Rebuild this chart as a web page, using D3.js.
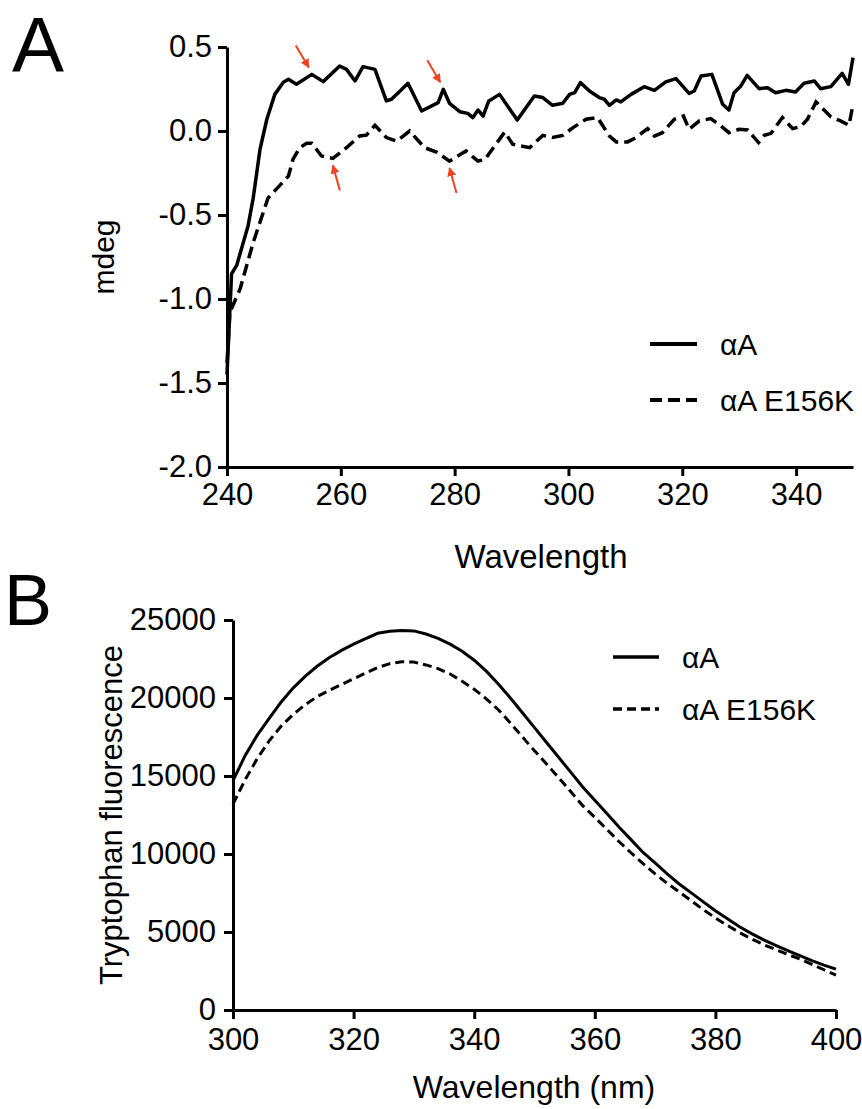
<!DOCTYPE html>
<html>
<head>
<meta charset="utf-8">
<script src="https://cdn.jsdelivr.net/npm/d3@7"></script>
<style>
  body { margin: 0; background: #fff; }
  svg text { font-family: "Liberation Sans", Arial, Helvetica, sans-serif; fill: #000; }
</style>
</head>
<body>
<div id="container"></div>
<script>

// ---- panel A : CD spectra (mdeg vs wavelength) ----
var cdWlWT = [240, 240.8, 241.7, 243.7, 244.6, 245.8, 247, 248.4, 249.9, 250.8, 252.2, 254.9, 256.9, 259.8, 261, 262.5,
  263.9, 266, 268, 268.9, 270.1, 271.8, 274.2, 277.1, 278, 279.1, 280.9, 282.3, 283.2, 284.1, 285, 286, 287.9, 291,
  294, 295.5, 297.2, 299, 300.2, 301.1, 302.1, 303.7, 305.4, 306.3, 307.2, 308.4, 309.2, 311, 313.3, 315.1, 317.1,
  318.9, 321.2, 322.1, 323.3, 325.2, 327.1, 328.2, 329.1, 330.3, 331.4, 333.5, 335, 336.4, 338.2, 339.9, 341.4,
  343.2, 344.3, 346.1, 348.1, 349.2, 350];
var cdWT = [-1.45, -0.85, -0.8, -0.565, -0.4, -0.11, 0.07, 0.218, 0.29, 0.308, 0.278, 0.337, 0.294, 0.387, 0.367, 0.298,
  0.383, 0.367, 0.179, 0.189, 0.228, 0.284, 0.119, 0.169, 0.248, 0.165, 0.115, 0.105, 0.08, 0.125, 0.089, 0.179, 0.218, 0.065,
  0.208, 0.199, 0.153, 0.165, 0.218, 0.228, 0.288, 0.238, 0.199, 0.189, 0.153, 0.185, 0.173, 0.218, 0.264, 0.242, 0.292,
  0.312, 0.224, 0.238, 0.327, 0.337, 0.159, 0.125, 0.228, 0.268, 0.331, 0.252, 0.258, 0.228, 0.242, 0.232, 0.284,
  0.298, 0.252, 0.264, 0.343, 0.278, 0.437];

var cdWlMut = [240, 240.5, 242.3, 244.6, 247.2, 250.8, 251.6, 252.8, 254, 254.9, 256.6, 258.6, 261, 263.3, 264.5, 266,
  268, 269.8, 272.1, 274.7, 276.8, 279.1, 282, 284.1, 285.3, 288.8, 290.2, 293.2, 295.5, 297.2, 299, 300.8, 303.1,
  305.1, 307.2, 308.4, 310.4, 311.9, 313.9, 315.1, 316.5, 318.6, 320.2, 321.2, 323, 325, 326.8, 328.2, 330, 331.5,
  333.4, 334.4, 335.6, 337.6, 339.4, 340.8, 342, 343.5, 344.7, 346.1, 347.8, 349.3, 350];
var cdMut = [-1.38, -1.08, -0.94, -0.664, -0.4, -0.268, -0.168, -0.099, -0.073, -0.073, -0.149, -0.163, -0.099, -0.03, -0.025, 0.034,
  -0.039, -0.06, 0.0, -0.099, -0.125, -0.179, -0.119, -0.179, -0.17, -0.006, -0.079, -0.099, -0.026, -0.039, -0.026, 0.02, 0.07,
  0.08, -0.03, -0.065, -0.065, -0.039, 0.014, -0.03, -0.01, 0.07, 0.089, 0.01, 0.06, 0.074, 0.03, -0.01, 0.01, 0.006,
  -0.069, -0.026, -0.014, 0.08, 0.014, 0.026, 0.07, 0.173, 0.133, 0.085, 0.06, 0.034, 0.159];

var cdXTicks = [240, 260, 280, 300, 320, 340];
var cdYTicks = [0.5, 0.0, -0.5, -1.0, -1.5, -2.0];

// red arrows: which point they mark, and whether they point down (-1) or up (1)
var arrowWl = [254.9, 278.0, 258.6, 279.1];
var arrowVal = [0.337, 0.248, -0.163, -0.179];
var arrowDir = [-1, -1, 1, 1];

// ---- panel B : tryptophan fluorescence ----
var flWl = [300, 302, 304, 306, 308, 310, 312, 314, 316, 318, 320, 322, 324, 326, 328, 330, 332, 334, 336, 338, 340,
  342, 344, 346, 348, 350, 352, 354, 356, 358, 360, 362, 364, 366, 368, 370, 372, 374, 376, 378, 380, 382, 384, 386,
  388, 390, 392, 394, 396, 398, 400];
var flWT = [14700, 16300, 17600, 18700, 19750, 20650, 21400, 22050, 22600, 23050, 23450, 23800, 24150, 24280, 24330,
  24300, 24100, 23820, 23450, 23000, 22420, 21720, 20900, 20000, 19050, 18100, 17150, 16200, 15250, 14300, 13450,
  12600, 11730, 10920, 10100, 9430, 8730, 8080, 7510, 6930, 6360, 5850, 5340, 4900, 4500, 4140, 3800, 3480, 3160,
  2880, 2620];
var flMut = [13200, 14750, 16100, 17250, 18200, 18950, 19580, 20100, 20500, 20870, 21230, 21600, 21950, 22200, 22320,
  22300, 22120, 21880, 21540, 21080, 20560, 19950, 19250, 18400, 17500, 16620, 15770, 14900, 14000, 13100, 12350,
  11580, 10800, 10080, 9380, 8730, 8120, 7570, 7000, 6430, 5900, 5420, 4960, 4560, 4190, 3870, 3560, 3270, 2930,
  2580, 2240];

var flXTicks = [300, 320, 340, 360, 380, 400];
var flYTicks = [0, 5000, 10000, 15000, 20000, 25000];

var legendNames = ["\u03b1A", "\u03b1A E156K"];

var svg = d3.select("#container").append("svg")
  .attr("width", 862)
  .attr("height", 1109);

svg.append("defs").append("marker")
  .attr("id", "redhead")
  .attr("viewBox", "0 0 10 10")
  .attr("refX", 9).attr("refY", 5)
  .attr("markerWidth", 4.5).attr("markerHeight", 4.5)
  .attr("orient", "auto")
  .append("path")
  .attr("d", "M0,0 L10,5 L0,10 z")
  .attr("fill", "#ee4422");

function styleAxis(g) {
  g.select(".domain").attr("stroke", "#000").attr("stroke-width", 3);
  g.selectAll(".tick line").attr("stroke", "#000").attr("stroke-width", 3);
  g.selectAll(".tick text")
    .attr("font-size", 31)
    .attr("font-family", "Liberation Sans, Arial, Helvetica, sans-serif");
  g.attr("font-family", null).attr("font-size", null);
}

// ================= panel A =================
var xA = d3.scaleLinear().domain([240, 350]).range([227, 853]);
var yA = d3.scaleLinear().domain([-2.0, 0.5]).range([467, 47]);

var gAx = svg.append("g")
  .attr("transform", "translate(0," + yA(-2.0) + ")")
  .call(d3.axisBottom(xA).tickValues(cdXTicks).tickSize(9).tickSizeOuter(0).tickPadding(7));
styleAxis(gAx);

var gAy = svg.append("g")
  .attr("transform", "translate(" + xA(240) + ",0)")
  .call(d3.axisLeft(yA).tickValues(cdYTicks).tickSize(9).tickSizeOuter(0).tickPadding(6)
    .tickFormat(function(d){ return d.toFixed(1); }));
styleAxis(gAy);

var lineA = d3.line()
  .x(function(d){ return xA(d[0]); })
  .y(function(d){ return yA(d[1]); });

svg.append("path")
  .datum(d3.zip(cdWlWT, cdWT))
  .attr("d", lineA)
  .attr("fill", "none")
  .attr("stroke", "#000")
  .attr("stroke-width", 3.5)
  .attr("stroke-linejoin", "round");

svg.append("path")
  .datum(d3.zip(cdWlMut, cdMut))
  .attr("d", lineA)
  .attr("fill", "none")
  .attr("stroke", "#000")
  .attr("stroke-width", 3.5)
  .attr("stroke-dasharray", "12,6");

// arrows
svg.selectAll("line.arrow")
  .data(d3.range(arrowWl.length))
  .enter()
  .append("line")
  .attr("class", "arrow")
  .attr("x1", function(i){ return xA(arrowWl[i]) + (arrowDir[i] < 0 ? -16 : 7); })
  .attr("y1", function(i){ return yA(arrowVal[i]) + (arrowDir[i] < 0 ? -29 : 32); })
  .attr("x2", function(i){ return xA(arrowWl[i]) + (arrowDir[i] < 0 ? -3 : 0); })
  .attr("y2", function(i){ return yA(arrowVal[i]) + (arrowDir[i] < 0 ? -7 : 7); })
  .attr("stroke", "#ee4422")
  .attr("stroke-width", 2)
  .attr("marker-end", "url(#redhead)");

svg.append("text")
  .attr("x", 103).attr("y", 257)
  .attr("transform", "rotate(-90,103,257)")
  .attr("text-anchor", "middle")
  .attr("dy", "0.35em")
  .attr("font-size", 30)
  .text("mdeg");

svg.append("text")
  .attr("x", 541).attr("y", 568)
  .attr("text-anchor", "middle")
  .attr("font-size", 33)
  .text("Wavelength");

svg.append("text")
  .attr("x", 12).attr("y", 72)
  .attr("font-size", 78)
  .text("A");

// legend A
var legA = [{ y: 344, dash: null }, { y: 400, dash: "12,6" }];
legA.forEach(function(l, i){
  svg.append("line")
    .attr("x1", 650).attr("x2", 697)
    .attr("y1", l.y).attr("y2", l.y)
    .attr("stroke", "#000").attr("stroke-width", 4)
    .attr("stroke-dasharray", l.dash);
  svg.append("text")
    .attr("x", 720).attr("y", l.y + 11)
    .attr("font-size", 30)
    .text(legendNames[i]);
});

// ================= panel B =================
var xB = d3.scaleLinear().domain([300, 400]).range([233, 836]);
var yB = d3.scaleLinear().domain([0, 25000]).range([1010, 620]);

var gBx = svg.append("g")
  .attr("transform", "translate(0," + yB(0) + ")")
  .call(d3.axisBottom(xB).tickValues(flXTicks).tickSize(9).tickSizeOuter(0).tickPadding(9));
styleAxis(gBx);

var gBy = svg.append("g")
  .attr("transform", "translate(" + xB(300) + ",0)")
  .call(d3.axisLeft(yB).tickValues(flYTicks).tickSize(9).tickSizeOuter(0).tickPadding(8)
    .tickFormat(function(d){ return String(d); }));
styleAxis(gBy);

var lineB = d3.line()
  .x(function(d){ return xB(d[0]); })
  .y(function(d){ return yB(d[1]); });

svg.append("path")
  .datum(d3.zip(flWl, flWT))
  .attr("d", lineB)
  .attr("fill", "none")
  .attr("stroke", "#000")
  .attr("stroke-width", 3);

svg.append("path")
  .datum(d3.zip(flWl, flMut))
  .attr("d", lineB)
  .attr("fill", "none")
  .attr("stroke", "#000")
  .attr("stroke-width", 3)
  .attr("stroke-dasharray", "9,5");

svg.append("text")
  .attr("x", 111).attr("y", 815)
  .attr("transform", "rotate(-90,111,815)")
  .attr("text-anchor", "middle")
  .attr("dy", "0.35em")
  .attr("font-size", 31)
  .text("Tryptophan fluorescence");

svg.append("text")
  .attr("x", 534).attr("y", 1098)
  .attr("text-anchor", "middle")
  .attr("font-size", 32)
  .text("Wavelength (nm)");

svg.append("text")
  .attr("x", 4).attr("y", 625)
  .attr("font-size", 72)
  .text("B");

// legend B
var legB = [{ y: 657, dash: null }, { y: 709, dash: "9,5" }];
legB.forEach(function(l, i){
  svg.append("line")
    .attr("x1", 613).attr("x2", 659)
    .attr("y1", l.y).attr("y2", l.y)
    .attr("stroke", "#000").attr("stroke-width", 3.5)
    .attr("stroke-dasharray", l.dash);
  svg.append("text")
    .attr("x", 682).attr("y", l.y + 11)
    .attr("font-size", 30)
    .text(legendNames[i]);
});

</script>
</body>
</html>
